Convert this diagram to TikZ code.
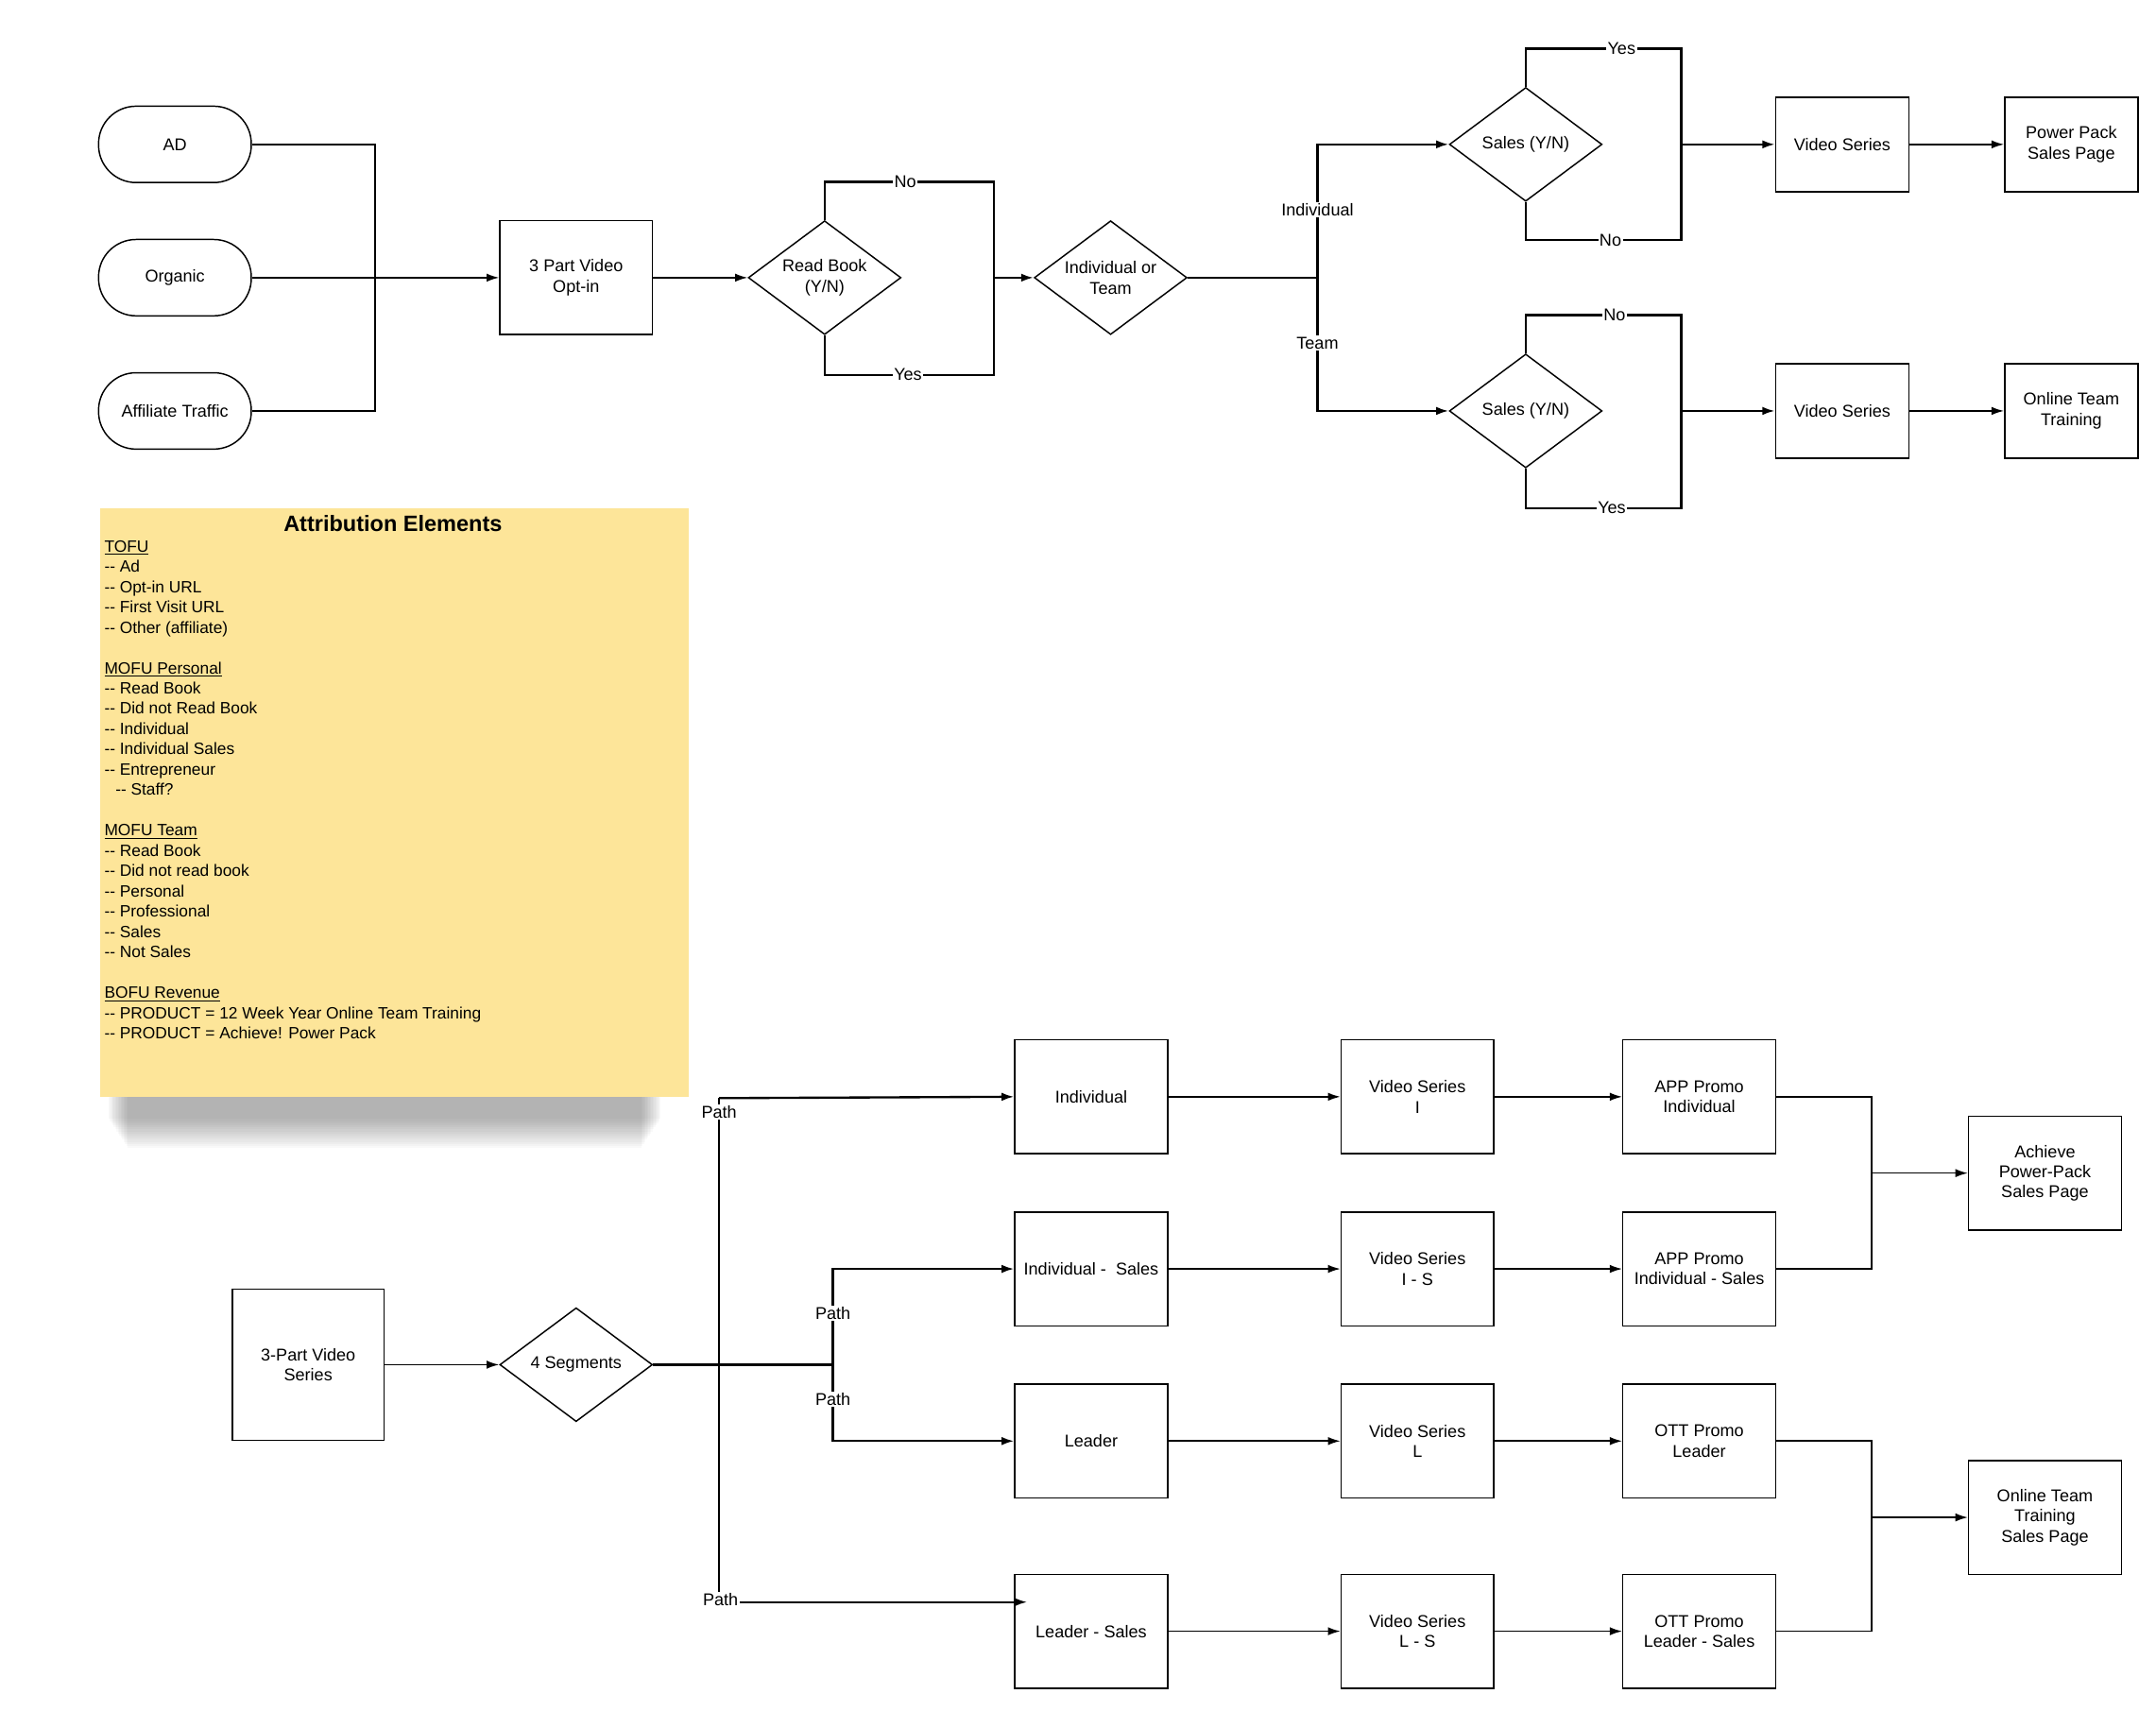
\documentclass[tikz,border=0pt]{standalone}
\usepackage{fontspec}
\setmainfont{Liberation Sans}[Ligatures=NoCommon]
\usetikzlibrary{shapes.geometric,arrows.meta,positioning}
\newcommand{\dd}{-{}- }
\begin{document}
\begin{tikzpicture}[x=1pt,y=-1pt,
  every node/.style={font=\fontsize{12.3}{14.5}\selectfont,align=center},
  box/.style={draw,line width=1pt,minimum width=110pt,minimum height=82pt,inner sep=1pt},
  sbox/.style={draw,line width=1pt,minimum width=96pt,minimum height=68pt,inner sep=1pt},
  term/.style={draw,line width=1pt,rounded corners=27pt,minimum width=110pt,minimum height=55pt},
  dia/.style={draw,line width=1pt,diamond,aspect=1.34,minimum width=110pt,minimum height=82pt,inner sep=0pt},
  ln/.style={line width=1.1pt},
  thk/.style={line width=1.6pt},
  arr/.style={-{Latex[length=9pt,width=6pt]}},
  lab/.style={fill=white,inner sep=1pt}]
\useasboundingbox (0,0) rectangle (1553,1232);
% top
\node[term] (ad) at (126,104) {AD};
\node[term] (org) at (126,200) {Organic};
\node[term] (aff) at (126,296) {Affiliate Traffic};
\node[box] (opt) at (415,200) {3 Part Video\\Opt-in};
\node[dia] (rb) at (594,200) {Read Book\\(Y/N)};
\node[dia] (it) at (800,200) {Individual or\\Team};
\node[dia] (s1) at (1099,104) {Sales (Y/N)};
\node[dia] (s2) at (1099,296) {Sales (Y/N)};
\node[sbox] (v1) at (1327,104) {Video Series};
\node[sbox] (v2) at (1327,296) {Video Series};
\node[sbox] (pp) at (1492,104) {Power Pack\\Sales Page};
\node[sbox] (ot) at (1492,296) {Online Team\\Training};
\coordinate (j1) at (270,200);
\draw[ln] (ad.east) -| (j1) |- (aff.east);
\draw[ln,arr] (org.east) -- (opt.west);
\draw[ln,arr] (opt.east) -- (rb.west);
\coordinate (j2) at (716,200);
\draw[thk] (rb.north) |- (716,131) -- (716,270) -| (rb.south);
\node[lab] at (652,131) {No};
\node[lab] at (654,270) {Yes};
\draw[thk,arr] (j2) -- (it.west);
\coordinate (j3) at (949,200);
\draw[thk] (it.east) -- (j3);
\draw[thk,arr] (j3) |- (s1.west);
\draw[thk,arr] (j3) |- (s2.west);
\node[lab] at (949,151) {Individual};
\node[lab] at (949,247) {Team};
\draw[thk] (s1.north) |- (1211,35) -- (1211,173) -| (s1.south);
\node[lab] at (1168,35) {Yes};
\node[lab] at (1160,173) {No};
\draw[thk,arr] (1211,104) -- (v1.west);
\draw[thk] (s2.north) |- (1211,227) -- (1211,366) -| (s2.south);
\node[lab] at (1163,227) {No};
\node[lab] at (1161,366) {Yes};
\draw[thk,arr] (1211,296) -- (v2.west);
\draw[ln,arr] (v1.east) -- (pp.west);
\draw[ln,arr] (v2.east) -- (ot.west);
% note
\foreach \i in {0,...,14} \fill[black,opacity=0.025] (78+\i,786) rectangle (476-\i,806+\i*1.5);
\fill[yellow!55!orange!38!white] (72,366) rectangle (496,790);
\node[font=\fontsize{16}{18}\selectfont\bfseries] (title) at (283,377) {Attribution Elements};
\node[anchor=north west,align=left,inner sep=0pt,font=\fontsize{11.8}{14.63}\selectfont] (notes) at (75,389) {\underline{TOFU}\\\dd Ad\\\dd Opt-in URL\\\dd First Visit URL\\\dd Other (affiliate)\\[14.63pt]\underline{MOFU Personal}\\\dd Read Book\\\dd Did not Read Book\\\dd Individual\\\dd Individual Sales\\\dd Entrepreneur\\\hspace*{8pt}\dd Staff?\\[14.63pt]\underline{MOFU Team}\\\dd Read Book\\\dd Did not read book\\\dd Personal\\\dd Professional\\\dd Sales\\\dd Not Sales\\[14.63pt]\underline{BOFU Revenue}\\\dd PRODUCT = 12 Week Year Online Team Training\\\dd PRODUCT = Achieve! Power Pack};
% bottom
\node[draw,line width=1pt,minimum width=109pt,minimum height=109pt] (vs) at (222,983) {3-Part Video\\Series};
\node[dia] (seg) at (415,983) {4 Segments};
\foreach \n/\y/\a/\b/\c in {r1/790/Individual/Video Series\\I/APP Promo\\Individual,
  r2/914/Individual -\ \ Sales/Video Series\\I - S/APP Promo\\Individual - Sales,
  r3/1038/Leader/Video Series\\L/OTT Promo\\Leader,
  r4/1175/Leader - Sales/Video Series\\L - S/OTT Promo\\Leader - Sales}{
  \node[box] (\n a) at (786,\y) {\a};
  \node[box] (\n b) at (1021,\y) {\b};
  \node[box] (\n c) at (1224,\y) {\c};
  \draw[ln,arr] (\n a.east) -- (\n b.west);
  \draw[ln,arr] (\n b.east) -- (\n c.west);
}
\node[box] (ach) at (1473,845) {Achieve\\Power-Pack\\Sales Page};
\node[box] (ots) at (1473,1093) {Online Team\\Training\\Sales Page};
\draw[ln,arr] (vs.east) -- (seg.west);
\coordinate (p1) at (600,983);
\draw[thk] (seg.east) -- (p1);
\draw[thk] (518,791) -- (518,1154);
\draw[thk,arr] (518,791) -- (r1a.west);
\draw[thk,arr] (p1) |- (r2a.west);
\draw[thk,arr] (p1) |- (r3a.west);
\draw[thk,arr] (518,1154) -- (740,1154);
\node[lab] at (518,801) {Path};
\node[lab] at (600,946) {Path};
\node[lab] at (600,1008) {Path};
\node[lab] at (519,1152) {Path};
\draw[ln] (r1c.east) -| (1348,914) -- (r2c.east);
\draw[ln,arr] (1348,845) -- (ach.west);
\draw[ln] (r3c.east) -| (1348,1175) -- (r4c.east);
\draw[ln,arr] (1348,1093) -- (ots.west);
\end{tikzpicture}
\end{document}
